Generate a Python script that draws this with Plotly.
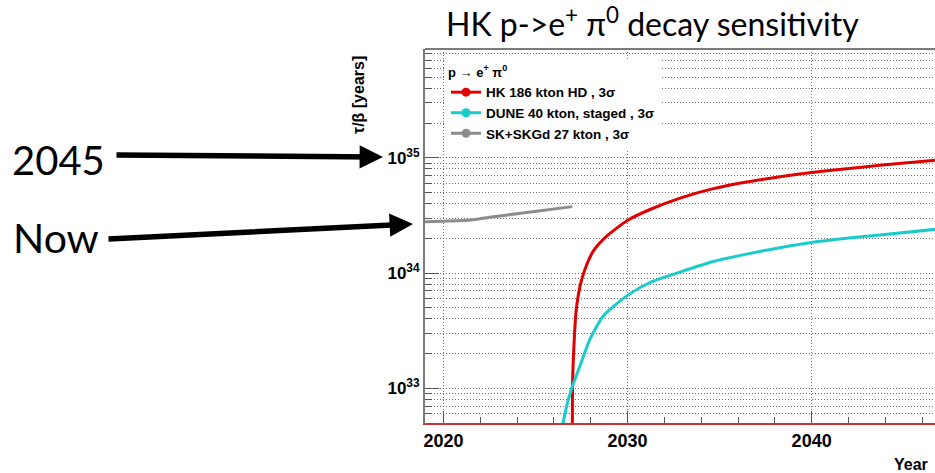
import plotly.graph_objects as go

# ---------------- data ----------------
hk_years = [2027.00, 2027.02, 2027.09, 2027.20, 2027.42, 2027.69, 2028.14, 2028.87,
            2029.99, 2031.22, 2032.85, 2034.66, 2036.47, 2038.28, 2040.00, 2041.90,
            2043.70, 2047.00]
hk_tau = [1.0e32, 1.2e33, 2.34e33, 4.55e33, 7.7e33, 1.08e34, 1.55e34, 2.09e34,
          2.86e34, 3.56e34, 4.47e34, 5.40e34, 6.17e34, 6.84e34, 7.45e34, 8.04e34,
          8.61e34, 9.60e34]

dune_years = [2026.40, 2026.70, 2026.97, 2027.42, 2027.96, 2028.69, 2029.96, 2031.22,
              2032.85, 2034.66, 2036.47, 2038.28, 2040.00, 2041.90, 2043.70, 2047.00]
dune_tau = [4.2e32, 7.06e32, 1.0e33, 1.57e33, 2.67e33, 4.26e33, 6.34e33, 8.28e33,
            1.02e34, 1.26e34, 1.46e34, 1.66e34, 1.84e34, 2.00e34, 2.14e34, 2.42e34]

sk_years = [2019.0, 2020.0, 2021.5, 2022.5, 2024.2, 2027.0]
sk_tau = [2.79e34, 2.82e34, 2.88e34, 3.05e34, 3.30e34, 3.77e34]

x_major = [2020, 2030, 2040]
x_minor = [2022, 2024, 2026, 2028, 2032, 2034, 2036, 2038, 2042, 2044, 2046]
y_major = [1e33, 1e34, 1e35]
y_major_text = ["10<sup>33</sup>", "10<sup>34</sup>", "10<sup>35</sup>"]
y_minor = [k * 10.0 ** d for d in range(32, 36) for k in range(2, 10)]

series = [
    ("HK 186 kton HD , 3σ", hk_years, hk_tau, "#e00000"),
    ("DUNE 40 kton, staged , 3σ", dune_years, dune_tau, "#19cccc"),
    ("SK+SKGd 27 kton , 3σ", sk_years, sk_tau, "#8c8c8c"),
]

# ---------------- figure ----------------
W, H = 935, 473
ML, MR, MT, MB = 425, 0, 49, 50
PW, PH = W - ML - MR, H - MT - MB


def px(xp):
    return (xp - ML) / PW


def py(yp):
    return 1 - (yp - MT) / PH


fig = go.Figure()
for name, xs, ys, col in series:
    fig.add_trace(go.Scatter(x=xs, y=ys, mode="lines",
                             line=dict(color=col, width=3, shape="spline", smoothing=0.6),
                             showlegend=False, hoverinfo="skip"))
for name, xs, ys, col in series:
    fig.add_trace(go.Scatter(x=[None], y=[None], mode="lines+markers", name=name,
                             line=dict(color=col, width=3),
                             marker=dict(color=col, size=9)))

grid = dict(showgrid=True, gridcolor="#6e6e6e", griddash="1px,2px", gridwidth=1)

fig.update_layout(
    width=W, height=H,
    margin=dict(l=ML, r=MR, t=MT, b=MB, pad=0),
    paper_bgcolor="white", plot_bgcolor="white",
    showlegend=True,
    legend=dict(
        x=px(446), y=py(60), xanchor="left", yanchor="top",
        bgcolor="white", borderwidth=0,
        title=dict(text="p → e<sup>+</sup> π<sup>0</sup>",
                   font=dict(family="Liberation Sans", size=13, color="black", weight="bold")),
        font=dict(family="Liberation Sans", size=13.5, color="black", weight="bold"),
        tracegroupgap=0,
    ),
    xaxis=dict(
        range=[2019, 2046.7], tickmode="array", tickvals=x_major,
        ticks="inside", ticklen=12, tickwidth=1, tickcolor="#555",
        minor=dict(tickmode="array", tickvals=x_minor, ticks="inside", ticklen=6,
                   tickcolor="#555", showgrid=False),
        showline=True, linecolor="#cc3333", linewidth=2, mirror=False,
        zeroline=False,
        tickfont=dict(family="Liberation Sans", size=18, color="black", weight="bold"),
        **grid,
    ),
    yaxis=dict(
        type="log", range=[32.699, 35.944],
        tickmode="array", tickvals=y_major, ticktext=y_major_text,
        ticks="inside", ticklen=14, tickwidth=1, tickcolor="#555",
        minor=dict(tickmode="array", tickvals=y_minor, ticks="inside", ticklen=7,
                   tickcolor="#555", **grid),
        showline=True, linecolor="#7a7a7a", linewidth=2, mirror=False,
        zeroline=False,
        tickfont=dict(family="Liberation Sans", size=17, color="black", weight="bold"),
        **grid,
    ),
    shapes=[dict(type="line", xref="paper", yref="paper", x0=0, x1=1, y0=1, y1=1,
                 line=dict(color="#7a7a7a", width=2))],
)

ann = [
    dict(text="HK p->e<sup>+</sup> π<sup>0</sup> decay sensitivity",
         x=px(652), y=py(22), xanchor="center", yanchor="middle",
         font=dict(family="Lato", size=32, color="black")),
    dict(text="2045", x=px(58), y=py(160), xanchor="center", yanchor="middle",
         font=dict(family="Lato", size=40, color="black")),
    dict(text="Now", x=px(56), y=py(237), xanchor="center", yanchor="middle",
         font=dict(family="Lato", size=41, color="black")),
    dict(text="<b>τ/β [years]</b>", textangle=-90, x=px(358), y=py(54),
         xanchor="center", yanchor="top",
         font=dict(family="Liberation Sans", size=16, color="black")),
    dict(text="<b>Year</b>", x=px(930), y=py(464), xanchor="right", yanchor="middle",
         font=dict(family="Liberation Sans", size=16, color="black")),
    dict(text="", x=px(383), y=py(157), ax=115 - 383, ay=-2,
         showarrow=True, arrowhead=2, arrowwidth=5.5, arrowsize=0.85,
         arrowcolor="black", standoff=0),
    dict(text="", x=px(413), y=py(224), ax=107 - 413, ay=15,
         showarrow=True, arrowhead=2, arrowwidth=5.5, arrowsize=0.85,
         arrowcolor="black", standoff=0),
]
for a in ann:
    a.setdefault("xref", "paper")
    a.setdefault("yref", "paper")
    a.setdefault("showarrow", False)
    fig.add_annotation(**a)

fig.write_html("out.html")
